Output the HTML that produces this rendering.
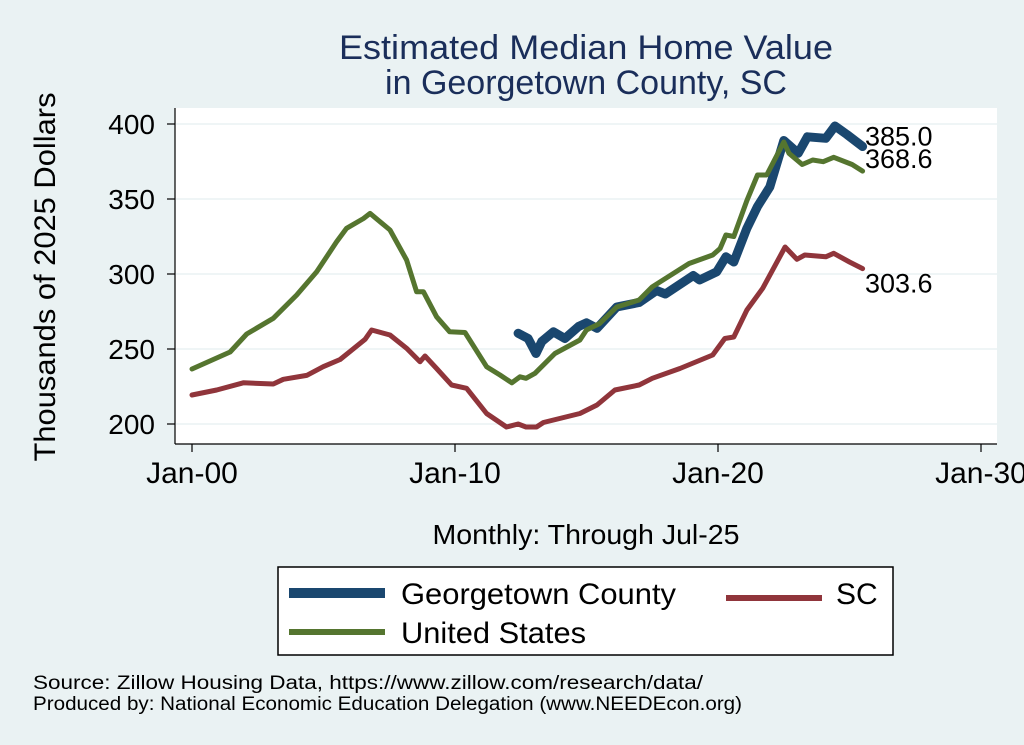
<!DOCTYPE html>
<html><head><meta charset="utf-8"><style>
body{margin:0;background:#eaf2f3;}
svg{display:block;font-family:"Liberation Sans",Arial,sans-serif;}
</style></head><body>
<svg id="chart" width="1024" height="745" viewBox="0 0 1024 745">
<rect x="0" y="0" width="1024" height="745" fill="#eaf2f3"/>
<text x="586" y="59" text-anchor="middle" font-size="34" fill="#1a2e5a" textLength="494" lengthAdjust="spacingAndGlyphs">Estimated Median Home Value</text>
<text x="586" y="94" text-anchor="middle" font-size="34" fill="#1a2e5a">in Georgetown County, SC</text>
<rect x="175" y="108" width="822" height="336" fill="#fff"/>
<g id="grid"></g>
<g id="axes"></g>
<g id="series"></g>
<text x="55" y="277" transform="rotate(-90 55 277)" text-anchor="middle" font-size="30" textLength="369" lengthAdjust="spacingAndGlyphs">Thousands of 2025 Dollars</text>
<text x="586" y="544" text-anchor="middle" font-size="28" textLength="307" lengthAdjust="spacingAndGlyphs">Monthly: Through Jul-25</text>
<g>
<rect x="278" y="567" width="615" height="88" fill="#fff" stroke="#000" stroke-width="1.5"/>
<line x1="289" y1="593" x2="385" y2="593" stroke="#1a476f" stroke-width="10"/>
<text x="401" y="604" font-size="30" textLength="275" lengthAdjust="spacingAndGlyphs">Georgetown County</text>
<line x1="726" y1="598" x2="822" y2="598" stroke="#90353b" stroke-width="6"/>
<text x="836" y="604" font-size="30">SC</text>
<line x1="289" y1="632" x2="385" y2="632" stroke="#55752f" stroke-width="6"/>
<text x="401" y="643" font-size="30" textLength="185" lengthAdjust="spacingAndGlyphs">United States</text>
</g>
<text x="33" y="689" font-size="19" textLength="670" lengthAdjust="spacingAndGlyphs">Source: Zillow Housing Data, https://www.zillow.com/research/data/</text>
<text x="33" y="710" font-size="19" textLength="709" lengthAdjust="spacingAndGlyphs">Produced by: National Economic Education Delegation (www.NEEDEcon.org)</text>
</svg>
<script>
const yTicks=[200,250,300,350,400];
const xTickYears=[0,10,20,30];
const xTickLabels=["Jan-00","Jan-10","Jan-20","Jan-30"];
const usYears=[0,1.45,2.08,3.09,3.98,4.74,5.5,5.88,6.52,6.77,7.53,8.16,8.54,8.8,9.3,9.8,10.38,11.2,11.71,12.16,12.47,12.7,13.04,13.8,14.75,15.0,15.5,16.15,17.0,17.5,18.9,19.8,20.08,20.3,20.6,21.1,21.5,21.85,22.5,22.7,23.2,23.6,24.0,24.4,25.1,25.5];
const usValues=[236.7,248,260,270.5,286,301.5,321.5,330.5,337,340.4,329.3,309.3,288.2,288.2,271.5,261.5,261,238.2,232.7,227.5,231.5,230.5,233.8,247,256,262.7,267,278,282.7,291.5,307,312.7,317,326,325,349,366,366,388,380.5,373,376,374.9,377.8,373,368.6];
const scYears=[0,0.94,1.95,3.09,3.47,4.36,4.99,5.63,6.0,6.58,6.83,7.53,8.16,8.67,8.86,9.3,9.87,10.44,11.2,11.96,12.4,12.7,13.1,13.36,14.75,15.4,16.08,17.0,17.5,18.55,19.8,20.26,20.6,21.1,21.7,22.55,23.0,23.3,24.1,24.4,25.0,25.5];
const scValues=[219.3,222.7,227.5,226.7,229.8,232.4,238.2,243,248.2,256.5,262.7,259.3,250.5,241.5,245.3,237,226,223.8,207,198,200,198,198,201,207,212.7,222.7,226,230.5,237,246,257,258,276,290.5,318,309.8,312.7,311.5,313.8,308,303.6];
const gcYears=[12.4,12.78,13.08,13.3,13.74,14.18,14.7,15.0,15.4,16.15,17.0,17.66,18.0,19.06,19.3,19.95,20.3,20.6,21.1,21.5,21.97,22.5,23.05,23.4,24.1,24.45,24.9,25.5];
const gcValues=[260.5,257,247,255,261.5,257,265,267.5,263.8,278,281,289,286.7,299,296,301.5,311.5,308,330.5,345,358,389,380.5,391.5,390.5,398.7,393,385];
const NS="http://www.w3.org/2000/svg";
function xs(yr){return 192+yr*26.3;}
function ys(v){return 424-(v-200)*1.5;}
function mk(tag,attrs,parent){const e=document.createElementNS(NS,tag);for(const k in attrs)e.setAttribute(k,attrs[k]);parent.appendChild(e);return e;}
const grid=document.getElementById('grid'),axes=document.getElementById('axes'),ser=document.getElementById('series');
yTicks.forEach(v=>{
 const g=mk('line',{x1:176,x2:997,y1:ys(v),y2:ys(v),stroke:'#eaf2f3','stroke-width':1.5},grid);
 
 
 const t=mk('line',{x1:167,x2:175,y1:ys(v),y2:ys(v),stroke:'#000','stroke-width':1.2},axes);
 
 
 const l=mk('text',{x:155,y:ys(v)+10,'text-anchor':'end','font-size':28},axes);
 l.textContent=v;
 
 
});
const ya=mk('line',{x1:175,x2:175,y1:108,y2:444,stroke:'#000','stroke-width':1.2},axes);


const xa=mk('line',{x1:175,x2:997,y1:444,y2:444,stroke:'#000','stroke-width':1.2},axes);


xTickYears.forEach((yr,i)=>{
 const t=mk('line',{x1:xs(yr),x2:xs(yr),y1:444,y2:452,stroke:'#000','stroke-width':1.2},axes);
 
 
 const l=mk('text',{x:xs(yr),y:483,'text-anchor':'middle','font-size':30},axes);
 l.textContent=xTickLabels[i];
 
 
});
function line(yrs,vals,color,w,name){
 const d=yrs.map((y,i)=>(i?'L':'M')+xs(y).toFixed(1)+','+ys(vals[i]).toFixed(1)).join(' ');
 const p=mk('path',{d:d,fill:'none',stroke:color,'stroke-width':w,'stroke-linejoin':'round','stroke-linecap':'round'},ser);
 
 
}
line(scYears,scValues,'#90353b',5,'series-sc');
line(gcYears,gcValues,'#1a476f',9,'series-georgetown');
line(usYears,usValues,'#55752f',5,'series-us');
function endLabel(vals,dy,name){
 const v=vals[vals.length-1];
 const t=mk('text',{x:865,y:ys(v)+dy,'font-size':27},ser);
 t.textContent=v.toFixed(1);
 
 
}
endLabel(gcValues,-1,'end-label-georgetown');
endLabel(usValues,-3,'end-label-us');
endLabel(scValues,24,'end-label-sc');
</script>
</body></html>
